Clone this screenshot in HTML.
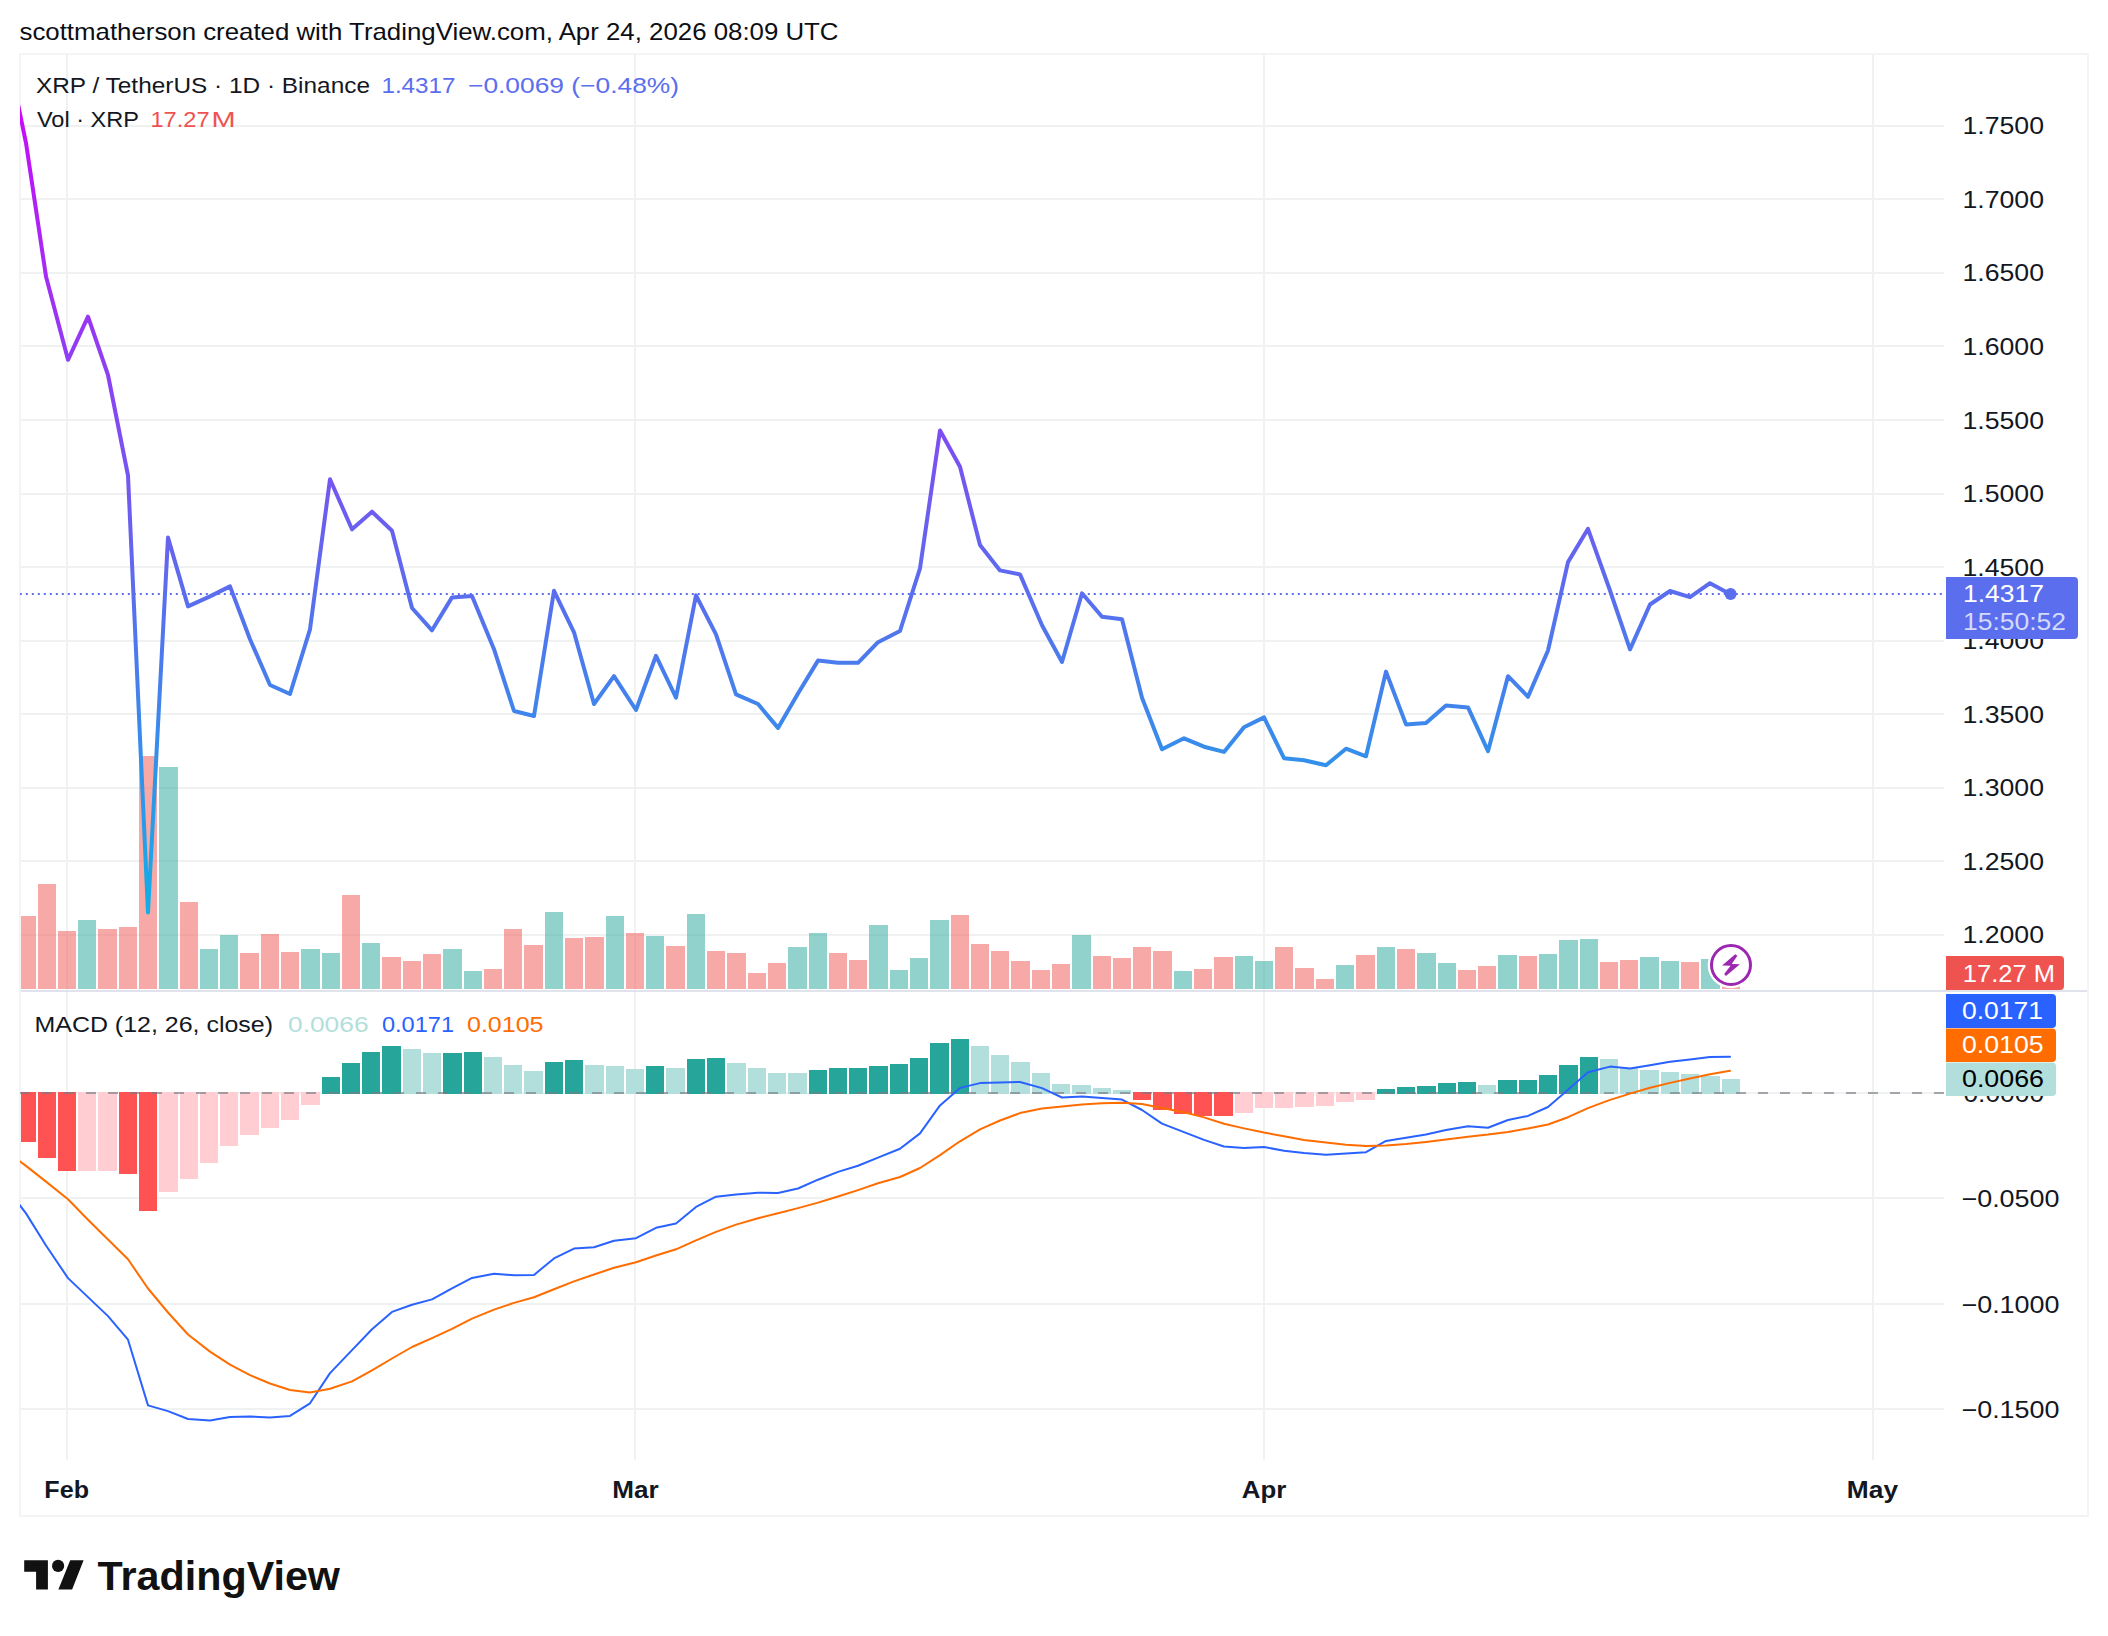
<!DOCTYPE html>
<html lang="en"><head><meta charset="utf-8"><title>XRP / TetherUS chart</title>
<style>html,body{margin:0;padding:0;background:#fff}svg{display:block}</style></head>
<body>
<svg width="2108" height="1636" viewBox="0 0 2108 1636" font-family="'Liberation Sans', Arial, sans-serif">
<defs>
<linearGradient id="pg" gradientUnits="userSpaceOnUse" x1="0" y1="54" x2="0" y2="990"><stop offset="0" stop-color="#d500f9"/><stop offset="1" stop-color="#00bee6"/></linearGradient>
<clipPath id="cp"><rect x="20" y="55" width="1924" height="1405"/></clipPath>
</defs>
<rect width="2108" height="1636" fill="#fff"/>
<text id="hdr" x="19.50" y="40" font-size="24" fill="#0c0e14"  textLength="819.01" lengthAdjust="spacingAndGlyphs">scottmatherson created with TradingView.com, Apr 24, 2026 08:09 UTC</text>
<rect x="20" y="54" width="2068" height="1462" fill="none" stroke="#f4f4f4" stroke-width="2"/>
<path d="M21 126H1944M21 199H1944M21 273H1944M21 346H1944M21 420H1944M21 494H1944M21 567H1944M21 641H1944M21 714H1944M21 788H1944M21 861H1944M21 935H1944M21 1093H1944M21 1198H1944M21 1304H1944M21 1409H1944M67 55V1460M635 55V1460M1264 55V1460M1873 55V1460" stroke="#f0f2f2" stroke-width="2" fill="none"/>
<g clip-path="url(#cp)">
<rect x="21" y="916.0" width="15" height="73.0" fill="rgba(239,83,80,0.5)"/>
<rect x="38" y="884.0" width="18" height="105.0" fill="rgba(239,83,80,0.5)"/>
<rect x="58" y="931.0" width="18" height="58.0" fill="rgba(239,83,80,0.5)"/>
<rect x="78" y="920.0" width="18" height="69.0" fill="rgba(38,166,154,0.5)"/>
<rect x="98" y="929.0" width="19" height="60.0" fill="rgba(239,83,80,0.5)"/>
<rect x="119" y="927.0" width="18" height="62.0" fill="rgba(239,83,80,0.5)"/>
<rect x="139" y="756.0" width="18" height="233.0" fill="rgba(239,83,80,0.5)"/>
<rect x="159" y="767.0" width="19" height="222.0" fill="rgba(38,166,154,0.5)"/>
<rect x="180" y="902.0" width="18" height="87.0" fill="rgba(239,83,80,0.5)"/>
<rect x="200" y="949.0" width="18" height="40.0" fill="rgba(38,166,154,0.5)"/>
<rect x="220" y="935.0" width="18" height="54.0" fill="rgba(38,166,154,0.5)"/>
<rect x="240" y="953.0" width="19" height="36.0" fill="rgba(239,83,80,0.5)"/>
<rect x="261" y="934.0" width="18" height="55.0" fill="rgba(239,83,80,0.5)"/>
<rect x="281" y="952.0" width="18" height="37.0" fill="rgba(239,83,80,0.5)"/>
<rect x="301" y="949.0" width="19" height="40.0" fill="rgba(38,166,154,0.5)"/>
<rect x="322" y="953.0" width="18" height="36.0" fill="rgba(38,166,154,0.5)"/>
<rect x="342" y="895.0" width="18" height="94.0" fill="rgba(239,83,80,0.5)"/>
<rect x="362" y="943.0" width="18" height="46.0" fill="rgba(38,166,154,0.5)"/>
<rect x="382" y="957.0" width="19" height="32.0" fill="rgba(239,83,80,0.5)"/>
<rect x="403" y="961.0" width="18" height="28.0" fill="rgba(239,83,80,0.5)"/>
<rect x="423" y="954.0" width="18" height="35.0" fill="rgba(239,83,80,0.5)"/>
<rect x="443" y="949.0" width="19" height="40.0" fill="rgba(38,166,154,0.5)"/>
<rect x="464" y="971.0" width="18" height="18.0" fill="rgba(38,166,154,0.5)"/>
<rect x="484" y="969.0" width="18" height="20.0" fill="rgba(239,83,80,0.5)"/>
<rect x="504" y="929.0" width="18" height="60.0" fill="rgba(239,83,80,0.5)"/>
<rect x="524" y="945.0" width="19" height="44.0" fill="rgba(239,83,80,0.5)"/>
<rect x="545" y="912.0" width="18" height="77.0" fill="rgba(38,166,154,0.5)"/>
<rect x="565" y="938.0" width="18" height="51.0" fill="rgba(239,83,80,0.5)"/>
<rect x="585" y="937.0" width="19" height="52.0" fill="rgba(239,83,80,0.5)"/>
<rect x="606" y="916.0" width="18" height="73.0" fill="rgba(38,166,154,0.5)"/>
<rect x="626" y="933.0" width="18" height="56.0" fill="rgba(239,83,80,0.5)"/>
<rect x="646" y="936.0" width="18" height="53.0" fill="rgba(38,166,154,0.5)"/>
<rect x="666" y="946.0" width="19" height="43.0" fill="rgba(239,83,80,0.5)"/>
<rect x="687" y="914.0" width="18" height="75.0" fill="rgba(38,166,154,0.5)"/>
<rect x="707" y="951.0" width="18" height="38.0" fill="rgba(239,83,80,0.5)"/>
<rect x="727" y="953.0" width="19" height="36.0" fill="rgba(239,83,80,0.5)"/>
<rect x="748" y="973.0" width="18" height="16.0" fill="rgba(239,83,80,0.5)"/>
<rect x="768" y="963.0" width="18" height="26.0" fill="rgba(239,83,80,0.5)"/>
<rect x="788" y="947.0" width="19" height="42.0" fill="rgba(38,166,154,0.5)"/>
<rect x="809" y="933.0" width="18" height="56.0" fill="rgba(38,166,154,0.5)"/>
<rect x="829" y="953.0" width="18" height="36.0" fill="rgba(239,83,80,0.5)"/>
<rect x="849" y="960.0" width="18" height="29.0" fill="rgba(239,83,80,0.5)"/>
<rect x="869" y="925.0" width="19" height="64.0" fill="rgba(38,166,154,0.5)"/>
<rect x="890" y="970.0" width="18" height="19.0" fill="rgba(38,166,154,0.5)"/>
<rect x="910" y="958.0" width="18" height="31.0" fill="rgba(38,166,154,0.5)"/>
<rect x="930" y="920.0" width="19" height="69.0" fill="rgba(38,166,154,0.5)"/>
<rect x="951" y="915.0" width="18" height="74.0" fill="rgba(239,83,80,0.5)"/>
<rect x="971" y="944.0" width="18" height="45.0" fill="rgba(239,83,80,0.5)"/>
<rect x="991" y="951.0" width="18" height="38.0" fill="rgba(239,83,80,0.5)"/>
<rect x="1011" y="961.0" width="19" height="28.0" fill="rgba(239,83,80,0.5)"/>
<rect x="1032" y="970.0" width="18" height="19.0" fill="rgba(239,83,80,0.5)"/>
<rect x="1052" y="964.0" width="18" height="25.0" fill="rgba(239,83,80,0.5)"/>
<rect x="1072" y="935.0" width="19" height="54.0" fill="rgba(38,166,154,0.5)"/>
<rect x="1093" y="956.0" width="18" height="33.0" fill="rgba(239,83,80,0.5)"/>
<rect x="1113" y="958.0" width="18" height="31.0" fill="rgba(239,83,80,0.5)"/>
<rect x="1133" y="947.0" width="18" height="42.0" fill="rgba(239,83,80,0.5)"/>
<rect x="1153" y="951.0" width="19" height="38.0" fill="rgba(239,83,80,0.5)"/>
<rect x="1174" y="971.0" width="18" height="18.0" fill="rgba(38,166,154,0.5)"/>
<rect x="1194" y="969.0" width="18" height="20.0" fill="rgba(239,83,80,0.5)"/>
<rect x="1214" y="957.0" width="19" height="32.0" fill="rgba(239,83,80,0.5)"/>
<rect x="1235" y="956.0" width="18" height="33.0" fill="rgba(38,166,154,0.5)"/>
<rect x="1255" y="961.0" width="18" height="28.0" fill="rgba(38,166,154,0.5)"/>
<rect x="1275" y="947.0" width="18" height="42.0" fill="rgba(239,83,80,0.5)"/>
<rect x="1295" y="968.0" width="19" height="21.0" fill="rgba(239,83,80,0.5)"/>
<rect x="1316" y="979.0" width="18" height="10.0" fill="rgba(239,83,80,0.5)"/>
<rect x="1336" y="965.0" width="18" height="24.0" fill="rgba(38,166,154,0.5)"/>
<rect x="1356" y="955.0" width="19" height="34.0" fill="rgba(239,83,80,0.5)"/>
<rect x="1377" y="947.0" width="18" height="42.0" fill="rgba(38,166,154,0.5)"/>
<rect x="1397" y="949.0" width="18" height="40.0" fill="rgba(239,83,80,0.5)"/>
<rect x="1417" y="953.0" width="19" height="36.0" fill="rgba(38,166,154,0.5)"/>
<rect x="1438" y="963.0" width="18" height="26.0" fill="rgba(38,166,154,0.5)"/>
<rect x="1458" y="970.0" width="18" height="19.0" fill="rgba(239,83,80,0.5)"/>
<rect x="1478" y="966.0" width="18" height="23.0" fill="rgba(239,83,80,0.5)"/>
<rect x="1498" y="955.0" width="19" height="34.0" fill="rgba(38,166,154,0.5)"/>
<rect x="1519" y="956.0" width="18" height="33.0" fill="rgba(239,83,80,0.5)"/>
<rect x="1539" y="954.0" width="18" height="35.0" fill="rgba(38,166,154,0.5)"/>
<rect x="1559" y="940.0" width="19" height="49.0" fill="rgba(38,166,154,0.5)"/>
<rect x="1580" y="939.0" width="18" height="50.0" fill="rgba(38,166,154,0.5)"/>
<rect x="1600" y="962.0" width="18" height="27.0" fill="rgba(239,83,80,0.5)"/>
<rect x="1620" y="960.0" width="18" height="29.0" fill="rgba(239,83,80,0.5)"/>
<rect x="1640" y="957.0" width="19" height="32.0" fill="rgba(38,166,154,0.5)"/>
<rect x="1661" y="961.0" width="18" height="28.0" fill="rgba(38,166,154,0.5)"/>
<rect x="1681" y="962.0" width="18" height="27.0" fill="rgba(239,83,80,0.5)"/>
<rect x="1701" y="959.0" width="19" height="30.0" fill="rgba(38,166,154,0.5)"/>
<rect x="1722" y="975.0" width="18" height="14.0" fill="rgba(239,83,80,0.5)"/>
<rect x="21" y="1092" width="15" height="50.0" fill="#ff5252"/>
<rect x="38" y="1092" width="18" height="66.0" fill="#ff5252"/>
<rect x="58" y="1092" width="18" height="79.0" fill="#ff5252"/>
<rect x="78" y="1092" width="18" height="79.0" fill="#ffcdd2"/>
<rect x="98" y="1092" width="19" height="79.0" fill="#ffcdd2"/>
<rect x="119" y="1092" width="18" height="82.0" fill="#ff5252"/>
<rect x="139" y="1092" width="18" height="119.0" fill="#ff5252"/>
<rect x="159" y="1092" width="19" height="100.0" fill="#ffcdd2"/>
<rect x="180" y="1092" width="18" height="87.0" fill="#ffcdd2"/>
<rect x="200" y="1092" width="18" height="71.0" fill="#ffcdd2"/>
<rect x="220" y="1092" width="18" height="54.0" fill="#ffcdd2"/>
<rect x="240" y="1092" width="19" height="43.0" fill="#ffcdd2"/>
<rect x="261" y="1092" width="18" height="36.0" fill="#ffcdd2"/>
<rect x="281" y="1092" width="18" height="28.0" fill="#ffcdd2"/>
<rect x="301" y="1092" width="19" height="13.0" fill="#ffcdd2"/>
<rect x="322" y="1077.0" width="18" height="17.0" fill="#26a69a"/>
<rect x="342" y="1063.0" width="18" height="31.0" fill="#26a69a"/>
<rect x="362" y="1052.0" width="18" height="42.0" fill="#26a69a"/>
<rect x="382" y="1046.0" width="19" height="48.0" fill="#26a69a"/>
<rect x="403" y="1049.0" width="18" height="45.0" fill="#b2dfdb"/>
<rect x="423" y="1053.0" width="18" height="41.0" fill="#b2dfdb"/>
<rect x="443" y="1053.0" width="19" height="41.0" fill="#26a69a"/>
<rect x="464" y="1052.0" width="18" height="42.0" fill="#26a69a"/>
<rect x="484" y="1057.0" width="18" height="37.0" fill="#b2dfdb"/>
<rect x="504" y="1065.0" width="18" height="29.0" fill="#b2dfdb"/>
<rect x="524" y="1071.0" width="19" height="23.0" fill="#b2dfdb"/>
<rect x="545" y="1062.0" width="18" height="32.0" fill="#26a69a"/>
<rect x="565" y="1060.0" width="18" height="34.0" fill="#26a69a"/>
<rect x="585" y="1065.0" width="19" height="29.0" fill="#b2dfdb"/>
<rect x="606" y="1066.0" width="18" height="28.0" fill="#b2dfdb"/>
<rect x="626" y="1069.0" width="18" height="25.0" fill="#b2dfdb"/>
<rect x="646" y="1066.0" width="18" height="28.0" fill="#26a69a"/>
<rect x="666" y="1068.0" width="19" height="26.0" fill="#b2dfdb"/>
<rect x="687" y="1059.0" width="18" height="35.0" fill="#26a69a"/>
<rect x="707" y="1058.0" width="18" height="36.0" fill="#26a69a"/>
<rect x="727" y="1063.0" width="19" height="31.0" fill="#b2dfdb"/>
<rect x="748" y="1068.0" width="18" height="26.0" fill="#b2dfdb"/>
<rect x="768" y="1073.0" width="18" height="21.0" fill="#b2dfdb"/>
<rect x="788" y="1073.0" width="19" height="21.0" fill="#b2dfdb"/>
<rect x="809" y="1070.0" width="18" height="24.0" fill="#26a69a"/>
<rect x="829" y="1068.0" width="18" height="26.0" fill="#26a69a"/>
<rect x="849" y="1068.0" width="18" height="26.0" fill="#26a69a"/>
<rect x="869" y="1066.0" width="19" height="28.0" fill="#26a69a"/>
<rect x="890" y="1064.0" width="18" height="30.0" fill="#26a69a"/>
<rect x="910" y="1058.0" width="18" height="36.0" fill="#26a69a"/>
<rect x="930" y="1043.0" width="19" height="51.0" fill="#26a69a"/>
<rect x="951" y="1039.0" width="18" height="55.0" fill="#26a69a"/>
<rect x="971" y="1046.0" width="18" height="48.0" fill="#b2dfdb"/>
<rect x="991" y="1055.0" width="18" height="39.0" fill="#b2dfdb"/>
<rect x="1011" y="1062.0" width="19" height="32.0" fill="#b2dfdb"/>
<rect x="1032" y="1073.0" width="18" height="21.0" fill="#b2dfdb"/>
<rect x="1052" y="1084.0" width="18" height="10.0" fill="#b2dfdb"/>
<rect x="1072" y="1085.0" width="19" height="9.0" fill="#b2dfdb"/>
<rect x="1093" y="1088.0" width="18" height="6.0" fill="#b2dfdb"/>
<rect x="1113" y="1090.0" width="18" height="4.0" fill="#b2dfdb"/>
<rect x="1133" y="1092" width="18" height="8.0" fill="#ff5252"/>
<rect x="1153" y="1092" width="19" height="18.0" fill="#ff5252"/>
<rect x="1174" y="1092" width="18" height="22.0" fill="#ff5252"/>
<rect x="1194" y="1092" width="18" height="24.0" fill="#ff5252"/>
<rect x="1214" y="1092" width="19" height="24.0" fill="#ff5252"/>
<rect x="1235" y="1092" width="18" height="21.0" fill="#ffcdd2"/>
<rect x="1255" y="1092" width="18" height="16.0" fill="#ffcdd2"/>
<rect x="1275" y="1092" width="18" height="16.0" fill="#ffcdd2"/>
<rect x="1295" y="1092" width="19" height="15.0" fill="#ffcdd2"/>
<rect x="1316" y="1092" width="18" height="14.0" fill="#ffcdd2"/>
<rect x="1336" y="1092" width="18" height="10.0" fill="#ffcdd2"/>
<rect x="1356" y="1092" width="19" height="8.0" fill="#ffcdd2"/>
<rect x="1377" y="1089.0" width="18" height="5.0" fill="#26a69a"/>
<rect x="1397" y="1087.0" width="18" height="7.0" fill="#26a69a"/>
<rect x="1417" y="1086.0" width="19" height="8.0" fill="#26a69a"/>
<rect x="1438" y="1083.0" width="18" height="11.0" fill="#26a69a"/>
<rect x="1458" y="1082.0" width="18" height="12.0" fill="#26a69a"/>
<rect x="1478" y="1085.0" width="18" height="9.0" fill="#b2dfdb"/>
<rect x="1498" y="1080.0" width="19" height="14.0" fill="#26a69a"/>
<rect x="1519" y="1080.0" width="18" height="14.0" fill="#26a69a"/>
<rect x="1539" y="1075.0" width="18" height="19.0" fill="#26a69a"/>
<rect x="1559" y="1065.0" width="19" height="29.0" fill="#26a69a"/>
<rect x="1580" y="1057.0" width="18" height="37.0" fill="#26a69a"/>
<rect x="1600" y="1059.0" width="18" height="35.0" fill="#b2dfdb"/>
<rect x="1620" y="1068.0" width="18" height="26.0" fill="#b2dfdb"/>
<rect x="1640" y="1070.0" width="19" height="24.0" fill="#b2dfdb"/>
<rect x="1661" y="1072.0" width="18" height="22.0" fill="#b2dfdb"/>
<rect x="1681" y="1074.0" width="18" height="20.0" fill="#b2dfdb"/>
<rect x="1701" y="1076.0" width="19" height="18.0" fill="#b2dfdb"/>
<rect x="1722" y="1079.0" width="18" height="15.0" fill="#b2dfdb"/>
<path d="M20 1093H1944" stroke="rgba(120,123,134,0.65)" stroke-width="2" stroke-dasharray="10 12" fill="none"/>
<polyline points="6,1187.0 26,1213.4 46,1245.5 68,1278.1 88,1297.1 108,1316.1 128,1339.7 148,1405.4 168,1411.1 188,1419.0 210,1420.4 230,1416.9 250,1416.5 270,1417.5 290,1415.9 310,1403.3 330,1373.1 352,1350.1 372,1329.2 392,1311.9 412,1304.8 432,1299.4 452,1288.3 472,1277.9 494,1273.7 514,1275.3 534,1274.9 554,1258.4 574,1248.6 594,1247.2 614,1240.7 636,1238.2 656,1227.8 676,1223.6 696,1206.9 716,1196.7 736,1194.4 758,1192.7 778,1192.9 798,1188.5 818,1179.7 838,1171.9 858,1165.8 878,1157.6 900,1148.8 920,1133.4 940,1105.4 960,1087.9 980,1083.1 1000,1082.5 1020,1082.0 1042,1088.1 1062,1097.5 1082,1096.4 1102,1098.1 1122,1099.6 1142,1110.0 1162,1123.6 1184,1132.1 1204,1139.9 1224,1146.5 1244,1148.0 1264,1147.0 1284,1150.7 1304,1153.0 1326,1154.7 1346,1153.4 1366,1152.2 1386,1140.9 1406,1137.8 1426,1134.6 1446,1130.1 1468,1126.3 1488,1127.8 1508,1120.0 1528,1115.9 1548,1107.0 1568,1089.8 1588,1072.3 1610,1066.6 1630,1068.5 1650,1065.2 1670,1061.7 1690,1059.4 1710,1057.1 1730,1056.7" fill="none" stroke="#2962ff" stroke-width="2" stroke-linejoin="round" stroke-linecap="round"/>
<polyline points="6,1151.0 26,1165.9 46,1181.6 68,1199.2 88,1219.7 108,1239.5 128,1259.3 148,1288.5 168,1312.5 188,1334.5 210,1351.6 230,1364.7 250,1375.2 270,1383.5 290,1390.0 310,1392.5 330,1388.7 352,1381.4 372,1370.4 392,1358.5 412,1347.0 432,1338.2 452,1328.9 472,1318.6 494,1309.6 514,1302.9 534,1297.3 554,1289.3 574,1281.4 594,1274.5 614,1267.8 636,1262.2 656,1255.5 676,1249.3 696,1240.3 716,1231.9 736,1224.6 758,1218.2 778,1213.2 798,1208.1 818,1202.6 838,1196.5 858,1190.1 878,1183.3 900,1177.0 920,1168.0 940,1155.1 960,1141.3 980,1129.4 1000,1120.5 1020,1113.1 1042,1108.6 1062,1106.5 1082,1104.4 1102,1103.3 1122,1102.7 1142,1104.0 1162,1107.9 1184,1112.2 1204,1117.4 1224,1123.8 1244,1128.4 1264,1132.6 1284,1136.3 1304,1139.9 1326,1142.6 1346,1144.7 1366,1146.1 1386,1145.5 1406,1144.0 1426,1141.9 1446,1139.4 1468,1136.7 1488,1134.6 1508,1131.9 1528,1128.4 1548,1124.5 1568,1117.2 1588,1108.1 1610,1099.9 1630,1093.6 1650,1087.8 1670,1082.9 1690,1078.4 1710,1074.3 1730,1070.8" fill="none" stroke="#ff6d00" stroke-width="2" stroke-linejoin="round" stroke-linecap="round"/>
<path d="M19.8 594H1944" stroke="#5b6eee" stroke-width="2" stroke-dasharray="2 4" fill="none"/>
<polyline points="6,46.0 26,143.0 46,276.4 68,359.8 88,316.7 108,375.0 128,475.5 148,912.5 168,537.6 188,606.4 210,596.4 230,586.4 250,639.2 270,685.0 290,694.0 310,629.3 330,479.2 352,529.3 372,511.7 392,530.7 412,608.0 432,630.3 452,597.4 472,596.0 494,649.2 514,711.0 534,716.0 554,590.8 574,632.3 594,704.0 614,676.1 636,710.0 656,655.8 676,697.6 696,595.4 716,634.3 736,694.4 758,704.0 778,727.9 798,693.5 818,660.6 838,662.8 858,662.8 878,642.2 900,631.0 920,568.4 940,430.5 960,466.8 980,545.1 1000,570.4 1020,574.4 1042,625.2 1062,662.0 1082,593.3 1102,616.8 1122,619.2 1142,697.7 1162,749.3 1184,738.3 1204,746.7 1224,751.9 1244,727.2 1264,717.4 1284,758.2 1304,760.2 1326,765.2 1346,748.7 1366,756.3 1386,671.6 1406,724.4 1426,723.0 1446,705.4 1468,707.4 1488,751.2 1508,676.2 1528,696.8 1548,650.5 1568,562.1 1588,528.8 1610,590.5 1630,649.4 1650,604.5 1670,591.0 1690,597.2 1710,583.2 1730,594.0" fill="none" stroke="url(#pg)" stroke-width="4" stroke-linejoin="round" stroke-linecap="round"/>
<circle cx="1730.6" cy="594" r="6" fill="#5b6eee"/>
</g>
<rect x="21" y="990" width="2066" height="2" fill="#e0e3eb"/>
<circle cx="1731" cy="965" r="23.3" fill="#fff"/>
<circle cx="1731" cy="965" r="19.5" fill="#fff" stroke="#9c27b0" stroke-width="3"/>
<path d="M1735.2 954.2 L1737.4 955.8 L1731.7 964 L1739.9 964.2 L1725.9 976 L1724.2 974.1 L1730.6 965.8 L1722.1 965.5 Z" fill="#9c27b0"/>
<text id="l1" x="35.99" y="93.3" font-size="22.5" fill="#131722"  textLength="334.02" lengthAdjust="spacingAndGlyphs">XRP / TetherUS · 1D · Binance</text>
<text id="l1v" x="381.42" y="93.3" font-size="22.5" fill="#5b6eee"  textLength="74.15" lengthAdjust="spacingAndGlyphs">1.4317</text>
<text id="l1c" x="467.99" y="93.3" font-size="22.5" fill="#5b6eee"  textLength="211.04" lengthAdjust="spacingAndGlyphs">−0.0069 (−0.48%)</text>
<text id="l2" x="36.98" y="127.3" font-size="22.5" fill="#131722"  textLength="102.05" lengthAdjust="spacingAndGlyphs">Vol · XRP</text>
<text id="l2v" x="150.42" y="127.3" font-size="22.5" fill="#ef5350"  textLength="59.17" lengthAdjust="spacingAndGlyphs">17.27</text>
<text id="l2m" x="211.47" y="127.3" font-size="22.5" fill="#ef5350"  textLength="24.07" lengthAdjust="spacingAndGlyphs">M</text>
<text id="m0" x="34.46" y="1032.4" font-size="22.5" fill="#131722"  textLength="238.57" lengthAdjust="spacingAndGlyphs">MACD (12, 26, close)</text>
<text id="m1" x="287.99" y="1032.4" font-size="22.5" fill="#b2dfdb"  textLength="80.55" lengthAdjust="spacingAndGlyphs">0.0066</text>
<text id="m2" x="381.97" y="1032.4" font-size="22.5" fill="#2962ff"  textLength="72.06" lengthAdjust="spacingAndGlyphs">0.0171</text>
<text id="m3" x="466.97" y="1032.4" font-size="22.5" fill="#ff6d00"  textLength="76.57" lengthAdjust="spacingAndGlyphs">0.0105</text>
<text id="ax0" x="1962.45" y="134.3" font-size="24" fill="#131722"  textLength="81.60" lengthAdjust="spacingAndGlyphs">1.7500</text>
<text id="ax1" x="1962.45" y="207.9" font-size="24" fill="#131722"  textLength="81.60" lengthAdjust="spacingAndGlyphs">1.7000</text>
<text id="ax2" x="1962.45" y="281.4" font-size="24" fill="#131722"  textLength="81.60" lengthAdjust="spacingAndGlyphs">1.6500</text>
<text id="ax3" x="1962.45" y="355.0" font-size="24" fill="#131722"  textLength="81.60" lengthAdjust="spacingAndGlyphs">1.6000</text>
<text id="ax4" x="1962.45" y="428.5" font-size="24" fill="#131722"  textLength="81.60" lengthAdjust="spacingAndGlyphs">1.5500</text>
<text id="ax5" x="1962.45" y="502.1" font-size="24" fill="#131722"  textLength="81.60" lengthAdjust="spacingAndGlyphs">1.5000</text>
<text id="ax6" x="1962.45" y="575.6" font-size="24" fill="#131722"  textLength="81.60" lengthAdjust="spacingAndGlyphs">1.4500</text>
<text id="ax7" x="1962.45" y="649.2" font-size="24" fill="#131722"  textLength="81.60" lengthAdjust="spacingAndGlyphs">1.4000</text>
<text id="ax8" x="1962.45" y="722.8" font-size="24" fill="#131722"  textLength="81.60" lengthAdjust="spacingAndGlyphs">1.3500</text>
<text id="ax9" x="1962.45" y="796.3" font-size="24" fill="#131722"  textLength="81.60" lengthAdjust="spacingAndGlyphs">1.3000</text>
<text id="ax10" x="1962.45" y="869.9" font-size="24" fill="#131722"  textLength="81.60" lengthAdjust="spacingAndGlyphs">1.2500</text>
<text id="ax11" x="1962.45" y="943.4" font-size="24" fill="#131722"  textLength="81.60" lengthAdjust="spacingAndGlyphs">1.2000</text>
<text id="axz" x="1963.48" y="1101.5" font-size="24" fill="#131722"  textLength="80.56" lengthAdjust="spacingAndGlyphs">0.0000</text>
<text id="an0" x="1961.45" y="1206.7" font-size="24" fill="#131722"  textLength="98.07" lengthAdjust="spacingAndGlyphs">−0.0500</text>
<text id="an1" x="1961.45" y="1312.7" font-size="24" fill="#131722"  textLength="98.07" lengthAdjust="spacingAndGlyphs">−0.1000</text>
<text id="an2" x="1961.45" y="1417.7" font-size="24" fill="#131722"  textLength="98.07" lengthAdjust="spacingAndGlyphs">−0.1500</text>
<path d="M1946 577H2074Q2078 577 2078 581V635Q2078 639 2074 639H1946Z" fill="#5b6eee"/>
<text id="pl1" x="1962.95" y="602.2" font-size="24" fill="#fff"  textLength="81.09" lengthAdjust="spacingAndGlyphs">1.4317</text>
<text id="pl2" x="1962.95" y="630.3" font-size="24" fill="#fff" fill-opacity="0.75" textLength="103.08" lengthAdjust="spacingAndGlyphs">15:50:52</text>
<path d="M1946 956H2060Q2064 956 2064 960V986Q2064 990 2060 990H1946Z" fill="#ef5350"/>
<text id="vl" x="1962.89" y="981.6" font-size="24" fill="#fff"  textLength="92.21" lengthAdjust="spacingAndGlyphs">17.27 M</text>
<path d="M1946 994H2052Q2056 994 2056 998V1024Q2056 1028 2052 1028H1946Z" fill="#2962ff"/>
<text id="ml1" x="1961.96" y="1019" font-size="24" fill="#fff"  textLength="81.09" lengthAdjust="spacingAndGlyphs">0.0171</text>
<path d="M1946 1028.4H2052Q2056 1028.4 2056 1032.4V1058Q2056 1062 2052 1062H1946Z" fill="#ff6d00"/>
<text id="ml2" x="1961.97" y="1052.9" font-size="24" fill="#fff"  textLength="81.58" lengthAdjust="spacingAndGlyphs">0.0105</text>
<path d="M1946 1062.4H2052Q2056 1062.4 2056 1066.4V1092Q2056 1096 2052 1096H1946Z" fill="#b2dfdb"/>
<text id="ml3" x="1961.98" y="1086.9" font-size="24" fill="#000"  textLength="82.06" lengthAdjust="spacingAndGlyphs">0.0066</text>
<text id="tf" x="44.39" y="1497.8" font-size="24" fill="#131722" font-weight="bold" textLength="44.65" lengthAdjust="spacingAndGlyphs">Feb</text>
<text id="tm" x="612.38" y="1497.8" font-size="24" fill="#131722" font-weight="bold" textLength="46.36" lengthAdjust="spacingAndGlyphs">Mar</text>
<text id="ta" x="1241.84" y="1497.8" font-size="24" fill="#131722" font-weight="bold" textLength="44.50" lengthAdjust="spacingAndGlyphs">Apr</text>
<text id="ty" x="1846.89" y="1497.8" font-size="24" fill="#131722" font-weight="bold" textLength="51.14" lengthAdjust="spacingAndGlyphs">May</text>
<path d="M24.2 1560.2H47.9V1589.5H36.1V1571.8H24.2Z M70.2 1560.2H83.6L72.1 1589.5H58.4Z" fill="#111"/>
<circle cx="58.1" cy="1565.9" r="6.1" fill="#111"/>
<text id="logo" x="97.50" y="1589.5" font-size="41" fill="#111" font-weight="bold" textLength="242.50" lengthAdjust="spacingAndGlyphs">TradingView</text>
</svg>
</body></html>
